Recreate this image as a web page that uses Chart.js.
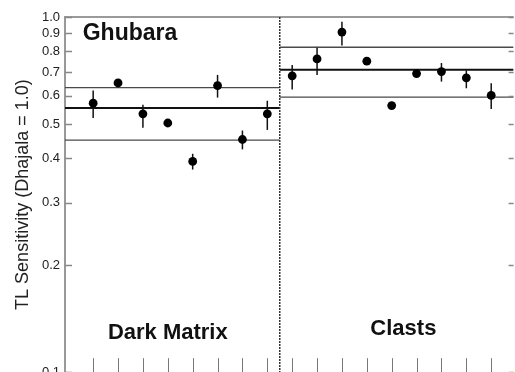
<!DOCTYPE html>
<html>
<head>
<meta charset="utf-8">
<script src="https://cdn.jsdelivr.net/npm/chart.js@4.4.1/dist/chart.umd.min.js"></script>
<style>
  html, body { margin: 0; padding: 0; background: #fff; overflow: hidden; }
</style>
</head>
<body>
<canvas id="chart" width="518" height="385"></canvas>
<script>
// TL sensitivity of Ghubara samples, normalised to Dhajala = 1.0, on a log axis.
// Slots 1-8 are the dark matrix samples, 9-17 the clasts.
const darkSlots = [1, 2, 3, 4, 5, 6, 7, 8];
const darkValues = [0.572, 0.652, 0.534, 0.503, 0.392, 0.641, 0.452, 0.534];
const darkLow = [0.520, 0.642, 0.488, 0.495, 0.372, 0.593, 0.424, 0.481];
const darkHigh = [0.621, 0.662, 0.566, 0.511, 0.412, 0.687, 0.479, 0.581];

const clastSlots = [9, 10, 11, 12, 13, 14, 15, 16, 17];
const clastValues = [0.683, 0.762, 0.907, 0.751, 0.563, 0.693, 0.702, 0.674, 0.602];
const clastLow = [0.625, 0.687, 0.831, 0.741, 0.556, 0.684, 0.658, 0.630, 0.551];
const clastHigh = [0.733, 0.825, 0.970, 0.761, 0.570, 0.702, 0.742, 0.708, 0.651];

// mean + 1 sigma, mean, mean - 1 sigma for each group
const darkBands = [0.633, 0.554, 0.450];
const clastBands = [0.822, 0.710, 0.595];

const yTicks = [0.1, 0.2, 0.3, 0.4, 0.5, 0.6, 0.7, 0.8, 0.9, 1.0];
const groupLabels = ['Dark Matrix', 'Clasts'];
const sampleName = 'Ghubara';
const yTitle = 'TL Sensitivity (Dhajala = 1.0)';

const X_MIN = -0.132;
const X_MAX = 17.9;
const SPLIT = 8.5; // between the last dark matrix slot and the first clast
const FONT = "'Liberation Sans', Arial, Helvetica, sans-serif";

const toPoints = (slots, values) => slots.map((s, i) => ({ x: s, y: values[i] }));
const bandSets = (bands, x0, x1) => bands.map((v, i) => ({
    type: 'line',
    data: [{ x: x0, y: v }, { x: x1, y: v }],
    borderColor: i === 1 ? '#111' : '#4a4a4a',
    borderWidth: i === 1 ? 2 : 1.3,
    pointRadius: 0,
    order: 2,
}));

// Error bars, drawn under the dots.
const errorBars = {
    id: 'errorBars',
    beforeDatasetsDraw(chart) {
        const { ctx, scales: { x, y } } = chart;
        ctx.save();
        ctx.strokeStyle = '#111';
        ctx.lineWidth = 1.5;
        const draw = (slots, low, high) => slots.forEach((s, i) => {
            const px = x.getPixelForValue(s);
            ctx.beginPath();
            ctx.moveTo(px, y.getPixelForValue(low[i]));
            ctx.lineTo(px, y.getPixelForValue(high[i]));
            ctx.stroke();
        });
        draw(darkSlots, darkLow, darkHigh);
        draw(clastSlots, clastLow, clastHigh);
        ctx.restore();
    },
};

// Frame: top border, dotted divider, inward tick marks, and the in-plot labels.
const frame = {
    id: 'frame',
    afterDraw(chart) {
        const { ctx, chartArea: a, scales: { x, y } } = chart;
        ctx.save();

        ctx.strokeStyle = '#9a9a9a';
        ctx.lineWidth = 2;
        ctx.beginPath();
        ctx.moveTo(a.left, a.top);
        ctx.lineTo(a.right, a.top);
        ctx.stroke();

        ctx.strokeStyle = '#888';
        ctx.lineWidth = 1.3;
        yTicks.forEach((v) => {
            const py = Math.round(y.getPixelForValue(v)) + 0.5;
            ctx.beginPath();
            ctx.moveTo(a.left, py); ctx.lineTo(a.left + 7, py);
            ctx.moveTo(a.right, py); ctx.lineTo(a.right - 5, py);
            ctx.stroke();
        });

        ctx.strokeStyle = '#777';
        ctx.lineWidth = 1;
        [...darkSlots, ...clastSlots].forEach((s) => {
            const px = Math.round(x.getPixelForValue(s)) + 0.5;
            ctx.beginPath();
            ctx.moveTo(px, a.bottom); ctx.lineTo(px, a.bottom - 14);
            ctx.stroke();
        });

        const sx = x.getPixelForValue(SPLIT);
        ctx.strokeStyle = '#333';
        ctx.lineWidth = 1.5;
        ctx.setLineDash([2, 1]);
        ctx.beginPath();
        ctx.moveTo(sx, a.top); ctx.lineTo(sx, a.bottom);
        ctx.stroke();
        ctx.setLineDash([]);

        ctx.fillStyle = '#111';
        ctx.font = `bold 23px ${FONT}`;
        ctx.textBaseline = 'middle';
        ctx.textAlign = 'left';
        ctx.fillText(sampleName, x.getPixelForValue(0.58), y.getPixelForValue(0.896));
        ctx.font = `bold 22px ${FONT}`;
        ctx.textAlign = 'center';
        ctx.fillText(groupLabels[0], x.getPixelForValue(4.0), y.getPixelForValue(0.129));
        ctx.fillText(groupLabels[1], x.getPixelForValue(13.47), y.getPixelForValue(0.1328));
        ctx.restore();
    },
};

new Chart(document.getElementById('chart'), {
    type: 'scatter',
    data: {
        datasets: [
            ...bandSets(darkBands, X_MIN, SPLIT),
            ...bandSets(clastBands, SPLIT, X_MAX),
            { data: toPoints(darkSlots, darkValues), backgroundColor: '#000', borderWidth: 0, pointRadius: 4.4, order: 1 },
            { data: toPoints(clastSlots, clastValues), backgroundColor: '#000', borderWidth: 0, pointRadius: 4.4, order: 1 },
        ],
    },
    options: {
        responsive: false,
        animation: false,
        layout: { padding: { top: 17, right: 2, bottom: 11, left: 0 } },
        plugins: { legend: { display: false }, tooltip: { enabled: false } },
        scales: {
            x: { type: 'linear', display: false, min: X_MIN, max: X_MAX },
            y: {
                type: 'logarithmic',
                min: 0.1,
                max: 1.0,
                afterBuildTicks: (s) => { s.ticks = yTicks.map((v) => ({ value: v })); },
                afterFit: (s) => { s.width = 65; },
                ticks: {
                    color: '#222',
                    padding: 5,
                    font: { family: FONT, size: 13 },
                    callback: (v) => Number(v).toFixed(1),
                },
                grid: { display: false, drawTicks: false },
                border: { display: true, color: '#999', width: 2 },
                title: {
                    display: true,
                    text: yTitle,
                    color: '#222',
                    font: { family: FONT, size: 18 },
                    padding: { top: 12, bottom: 0 },
                },
            },
        },
    },
    plugins: [errorBars, frame],
});
</script>
</body>
</html>
